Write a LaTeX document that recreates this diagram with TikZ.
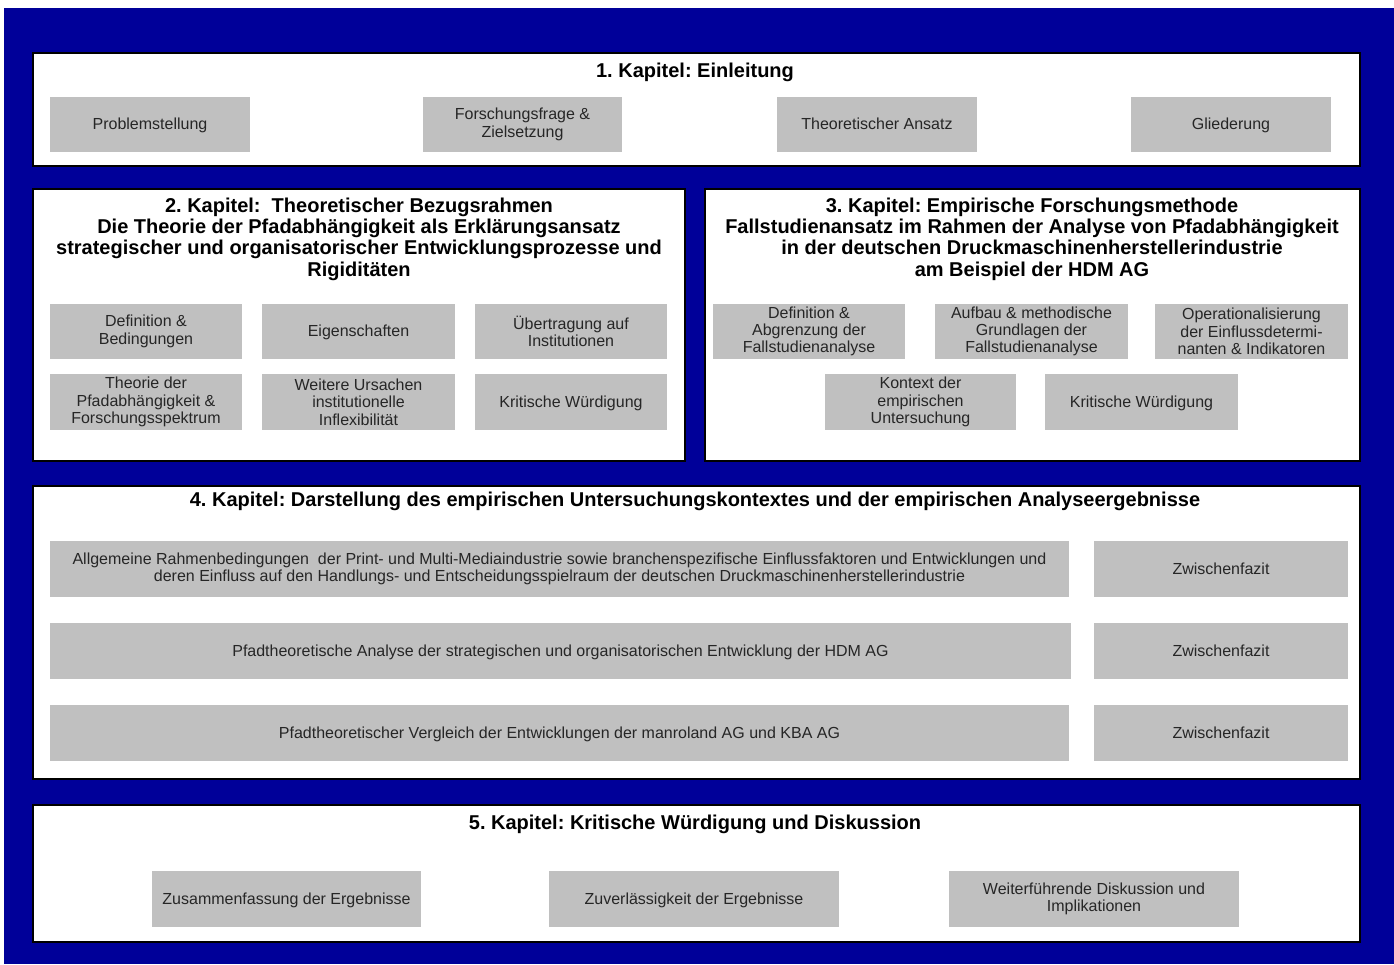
\documentclass[tikz,border=0pt]{standalone}
\usepackage{fontspec}
\setmainfont{Liberation Sans}
\frenchspacing
\definecolor{bgblue}{HTML}{000099}
\definecolor{boxgray}{HTML}{C0C0C0}
\definecolor{txt}{HTML}{262626}
\tikzset{
  wh/.style 2 args={minimum width=#1*0.75pt, minimum height=#2*0.75pt},
  chap/.style={draw=black, line width=1.5pt, fill=white, inner sep=0pt},
  gbox/.style={fill=boxgray, inner sep=0pt, text=txt, font=\fontsize{12}{13}\selectfont, align=center},
  oneline/.style={text height=0.95em, text depth=0.18em},
  ctitle/.style={font=\bfseries\fontsize{15}{16}\selectfont, align=center, text=black, inner sep=0pt}
}
\begin{document}
\begin{tikzpicture}[x=0.75pt,y=-0.75pt]
\useasboundingbox (0,0) rectangle (1394,964);
\fill[white] (0,0) rectangle (1394,964);
\fill[bgblue] (4,8) rectangle (1394,964);

% Chapter 1
\node[chap, wh={1327}{113}] (k1) at (696.5,109.5) {};
\node[ctitle] (t1) at (695,72) {1. Kapitel: Einleitung};
\node[gbox, oneline, wh={200}{55}] (k1a) at (150,124.5) {Problemstellung};
\node[gbox, wh={199}{55}] (k1b) at (522.5,124.5) {Forschungsfrage \&\\Zielsetzung};
\node[gbox, oneline, wh={200}{55}] (k1c) at (877,124.5) {Theoretischer Ansatz};
\node[gbox, oneline, wh={200}{55}] (k1d) at (1231,124.5) {Gliederung};

% Chapter 2
\node[chap, wh={652}{272}] (k2) at (359,325) {};
\node[ctitle] (t2) at (359,239) {2. Kapitel:\ \ Theoretischer Bezugsrahmen\\Die Theorie der Pfadabhängigkeit als Erklärungsansatz\\strategischer und organisatorischer Entwicklungsprozesse und\\Rigiditäten};
\node[gbox, wh={192}{55}] (k2a) at (146,331.5) {Definition \&\\Bedingungen};
\node[gbox, oneline, wh={193}{55}] (k2b) at (358.5,331.5) {Eigenschaften};
\node[gbox, wh={192}{55}] (k2c) at (571,331.5) {Übertragung auf\\Institutionen};
\node[gbox, wh={192}{56}] (k2d) at (146,402) {Theorie der\\Pfadabhängigkeit \&\\Forschungsspektrum};
\node[gbox, wh={193}{56}] (k2e) at (358.5,402) {Weitere Ursachen\\institutionelle\\Inflexibilität};
\node[gbox, oneline, wh={192}{56}] (k2f) at (571,402) {Kritische Würdigung};

% Chapter 3
\node[chap, wh={655}{272}] (k3) at (1032.5,325) {};
\node[ctitle] (t3) at (1032,239) {3. Kapitel: Empirische Forschungsmethode\\Fallstudienansatz im Rahmen der Analyse von Pfadabhängigkeit\\in der deutschen Druckmaschinenherstellerindustrie\\am Beispiel der HDM AG};
\node[gbox, wh={192}{55}] (k3a) at (809,331.5) {Definition \&\\Abgrenzung der\\Fallstudienanalyse};
\node[gbox, wh={193}{55}] (k3b) at (1031.5,331.5) {Aufbau \& methodische\\Grundlagen der\\Fallstudienanalyse};
\node[gbox, wh={193}{55}] (k3c) at (1251.5,331.5) {Operationalisierung\\der Einflussdetermi-\\nanten \& Indikatoren};
\node[gbox, wh={191}{56}] (k3d) at (920.5,402) {Kontext der\\empirischen\\Untersuchung};
\node[gbox, oneline, wh={193}{56}] (k3e) at (1141.5,402) {Kritische Würdigung};

% Chapter 4
\node[chap, wh={1327}{293}] (k4) at (696.5,632.5) {};
\node[ctitle] (t4) at (695,501) {4. Kapitel: Darstellung des empirischen Untersuchungskontextes und der empirischen Analyseergebnisse};
\node[gbox, wh={1019}{56}] (k4a) at (559.5,569) {Allgemeine Rahmenbedingungen\ \ der Print- und Multi-Mediaindustrie sowie branchenspezifische Einflussfaktoren und Entwicklungen und\\deren Einfluss auf den Handlungs- und Entscheidungsspielraum der deutschen Druckmaschinenherstellerindustrie};
\node[gbox, oneline, wh={254}{56}] (k4b) at (1221,569) {Zwischenfazit};
\node[gbox, oneline, wh={1021}{56}] (k4c) at (560.5,651) {Pfadtheoretische Analyse der strategischen und organisatorischen Entwicklung der HDM AG};
\node[gbox, oneline, wh={254}{56}] (k4d) at (1221,651) {Zwischenfazit};
\node[gbox, oneline, wh={1019}{56}] (k4e) at (559.5,733) {Pfadtheoretischer Vergleich der Entwicklungen der manroland AG und KBA AG};
\node[gbox, oneline, wh={254}{56}] (k4f) at (1221,733) {Zwischenfazit};

% Chapter 5
\node[chap, wh={1327}{137}] (k5) at (696.5,873.5) {};
\node[ctitle] (t5) at (695,824) {5. Kapitel: Kritische Würdigung und Diskussion};
\node[gbox, oneline, wh={269}{56}] (k5a) at (286.5,899) {Zusammenfassung der Ergebnisse};
\node[gbox, oneline, wh={290}{56}] (k5b) at (694,899) {Zuverlässigkeit der Ergebnisse};
\node[gbox, wh={290}{56}] (k5c) at (1094,899) {Weiterführende Diskussion und\\Implikationen};
\end{tikzpicture}
\end{document}
